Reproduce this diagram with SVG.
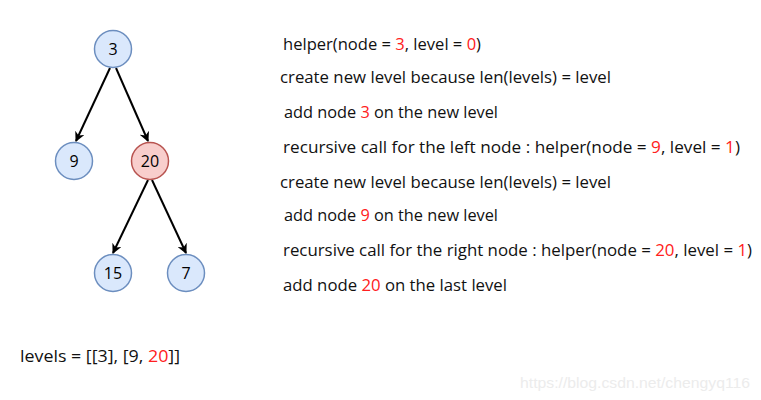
<svg xmlns="http://www.w3.org/2000/svg" width="761" height="400" viewBox="0 0 761 400">
<style>
.blue{fill:#dae8fc;stroke:#6c8ebf;stroke-width:1.5}
.red{fill:#f8cecc;stroke:#b85450;stroke-width:1.5}
.nl{font-family:"Open Sans","Noto Sans",sans-serif;font-size:16px;fill:#000;text-anchor:middle;dominant-baseline:central}
.t{font-family:"Open Sans","Noto Sans",sans-serif;font-size:16px;fill:#111}
.r{fill:#ff2020}
.e{stroke:#000;stroke-width:2;fill:none;marker-end:url(#ah)}
.wm{font-family:"Liberation Sans",Arial,sans-serif;font-size:15px;fill:#ececec}
</style>
<defs>
<marker id="ah" viewBox="0 0 10 10" refX="9" refY="5" markerWidth="10" markerHeight="10" markerUnits="userSpaceOnUse" orient="auto">
<path d="M0,0 L10,5 L0,10 L3,5 Z" fill="#000"/>
</marker>
</defs>
<rect width="761" height="400" fill="#fff"/>
<g id="connectors">
<line class="e" x1="110" y1="68" x2="76" y2="141"/>
<line class="e" x1="116" y1="68" x2="148" y2="141"/>
<line class="e" x1="148" y1="180" x2="113" y2="253"/>
<line class="e" x1="152" y1="180" x2="186" y2="253"/>
</g>
<g id="node-3"><circle class="blue" cx="113" cy="49" r="18.5"/><text class="nl" x="113" y="49">3</text></g>
<g id="node-9"><circle class="blue" cx="74" cy="161" r="18.5"/><text class="nl" x="74" y="161">9</text></g>
<g id="node-20"><circle class="red" cx="150" cy="161" r="18.5"/><text class="nl" x="150" y="161">20</text></g>
<g id="node-15"><circle class="blue" cx="113" cy="273" r="18.5"/><text class="nl" x="113" y="273">15</text></g>
<g id="node-7"><circle class="blue" cx="186" cy="273" r="18.5"/><text class="nl" x="186" y="273">7</text></g>
<g id="steps">
<text class="t" x="283" y="50" textLength="198" lengthAdjust="spacingAndGlyphs">helper(node = <tspan class="r">3</tspan>, level = <tspan class="r">0</tspan>)</text>
<text class="t" x="280" y="83" textLength="331" lengthAdjust="spacingAndGlyphs">create new level because len(levels) = level</text>
<text class="t" x="284" y="118" textLength="214" lengthAdjust="spacingAndGlyphs">add node <tspan class="r">3</tspan> on the new level</text>
<text class="t" x="283" y="153" textLength="457" lengthAdjust="spacingAndGlyphs">recursive call for the left node : helper(node = <tspan class="r">9</tspan>, level = <tspan class="r">1</tspan>)</text>
<text class="t" x="280" y="188" textLength="331" lengthAdjust="spacingAndGlyphs">create new level because len(levels) = level</text>
<text class="t" x="284" y="221" textLength="214" lengthAdjust="spacingAndGlyphs">add node <tspan class="r">9</tspan> on the new level</text>
<text class="t" x="283" y="256" textLength="469" lengthAdjust="spacingAndGlyphs">recursive call for the right node : helper(node = <tspan class="r">20</tspan>, level = <tspan class="r">1</tspan>)</text>
<text class="t" x="283" y="291" textLength="224" lengthAdjust="spacingAndGlyphs">add node <tspan class="r">20</tspan> on the last level</text>
<text class="t" x="20" y="362" textLength="160" lengthAdjust="spacingAndGlyphs">levels = [[3], [9, <tspan class="r">20</tspan>]]</text>
</g>
<text class="wm" x="520" y="388" textLength="230" lengthAdjust="spacingAndGlyphs">https://blog.csdn.net/chengyq116</text>
</svg>
